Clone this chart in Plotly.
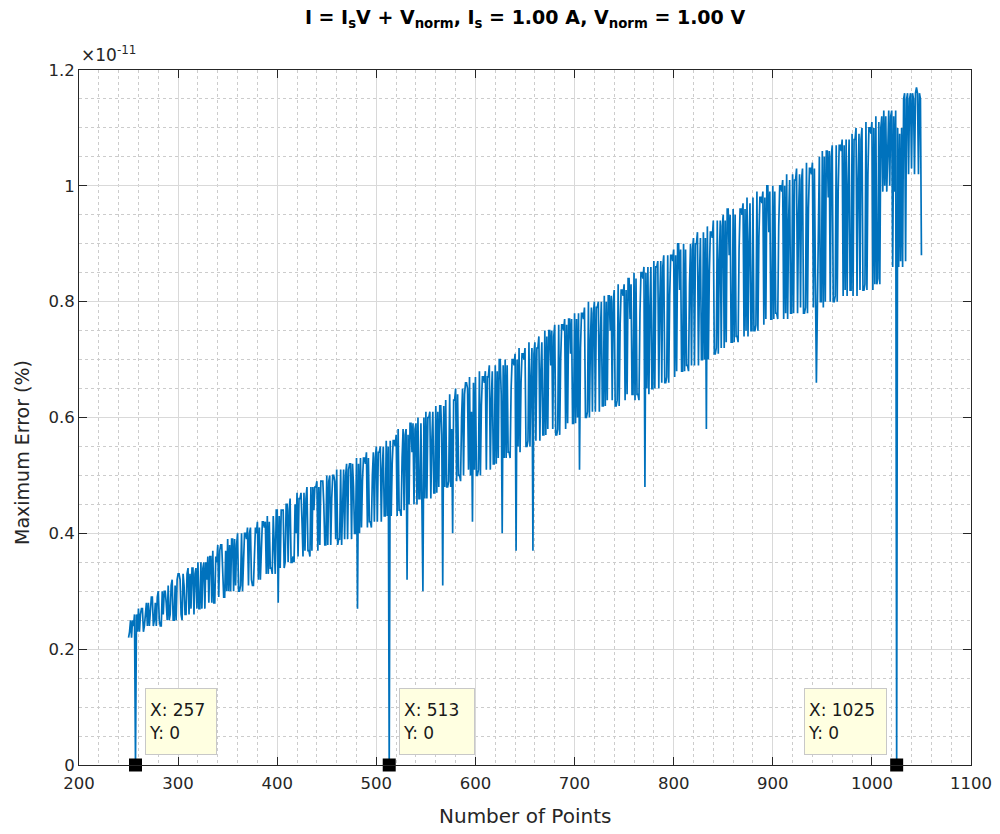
import plotly.graph_objects as go

# Number of points (x axis)
n_points = list(range(250, 1051))

# Maximum error (%), in units of 1e-13 (one value per N)
max_err_e13 = [
    22, 23, 25, 22, 25, 24, 26, 0, 26, 23,        # 250
    27, 23, 26, 27, 27, 23, 24, 27, 28, 24,       # 260
    28, 24, 28, 29, 29, 24, 25, 28, 24, 29,       # 270
    30, 25, 24, 24, 30, 26, 30, 30, 28, 25,       # 280
    31, 25, 26, 31, 32, 25, 25, 31, 25, 32,       # 290
    33, 33, 32, 26, 25, 33, 31, 26, 26, 33,       # 300
    34, 26, 33, 27, 34, 34, 26, 33, 34, 27,       # 310
    35, 27, 27, 35, 27, 34, 35, 27, 35, 32,       # 320
    36, 28, 36, 36, 28, 37, 28, 28, 36, 35,       # 330
    38, 29, 37, 38, 38, 33, 29, 29, 37, 30,       # 340
    39, 30, 38, 30, 39, 39, 30, 39, 31, 38,       # 350
    40, 30, 30, 31, 40, 30, 37, 40, 40, 39,       # 360
    41, 31, 40, 41, 32, 31, 31, 36, 41, 40,       # 370
    42, 32, 41, 32, 38, 42, 42, 41, 42, 33,       # 380
    43, 33, 42, 34, 34, 33, 43, 39, 33, 44,       # 390
    44, 28, 43, 34, 44, 44, 44, 34, 35, 45,       # 400
    45, 35, 44, 46, 35, 35, 36, 35, 45, 40,       # 410
    47, 36, 46, 46, 47, 42, 36, 47, 37, 46,       # 420
    48, 37, 37, 36, 48, 37, 48, 44, 48, 48,       # 430
    49, 37, 48, 38, 49, 49, 49, 45, 38, 38,       # 440
    50, 38, 49, 50, 38, 46, 50, 50, 49, 39,       # 450
    51, 38, 39, 39, 51, 38, 47, 51, 39, 50,       # 460
    52, 39, 51, 52, 52, 39, 52, 48, 40, 40,       # 470
    53, 27, 52, 40, 53, 41, 49, 53, 53, 52,       # 480
    54, 41, 53, 42, 42, 41, 50, 54, 42, 53,       # 490
    55, 42, 54, 54, 55, 42, 51, 55, 43, 43,       # 500
    56, 43, 55, 0, 56, 43, 52, 56, 56, 55,        # 510
    57, 43, 58, 44, 44, 43, 53, 58, 44, 57,       # 520
    58, 32, 57, 45, 59, 59, 54, 59, 45, 58,       # 530
    59, 45, 60, 46, 46, 59, 45, 30, 60, 46,       # 540
    61, 46, 60, 60, 61, 46, 56, 61, 47, 47,       # 550
    62, 47, 61, 48, 62, 62, 57, 31, 62, 48,       # 560
    63, 48, 48, 49, 64, 48, 58, 40, 63, 63,       # 570
    65, 49, 64, 50, 50, 49, 60, 65, 50, 64,       # 580
    66, 66, 65, 51, 67, 50, 61, 42, 66, 51,       # 590
    67, 50, 50, 51, 68, 50, 62, 67, 67, 66,       # 600
    68, 51, 67, 67, 69, 51, 63, 68, 52, 52,       # 610
    69, 52, 68, 53, 70, 70, 64, 40, 69, 53,       # 620
    70, 53, 69, 54, 54, 53, 65, 70, 70, 69,       # 630
    71, 37, 70, 55, 72, 54, 66, 71, 71, 70,       # 640
    72, 55, 55, 56, 73, 55, 67, 72, 37, 71,       # 650
    73, 56, 72, 72, 74, 56, 68, 73, 57, 57,       # 660
    75, 57, 74, 58, 75, 75, 69, 75, 58, 74,       # 670
    76, 57, 57, 58, 76, 57, 70, 76, 76, 75,       # 680
    77, 58, 76, 59, 77, 77, 71, 77, 59, 59,       # 690
    78, 59, 77, 60, 78, 51, 72, 78, 78, 77,       # 700
    79, 60, 60, 61, 80, 60, 73, 79, 61, 78,       # 710
    80, 61, 79, 79, 80, 61, 74, 80, 62, 62,       # 720
    81, 62, 80, 63, 81, 81, 75, 81, 63, 80,       # 730
    82, 62, 62, 63, 83, 62, 76, 82, 82, 81,       # 740
    83, 63, 82, 64, 84, 84, 77, 83, 64, 64,       # 750
    85, 63, 84, 64, 64, 63, 78, 85, 85, 84,       # 760
    86, 48, 85, 65, 86, 64, 79, 86, 65, 65,       # 770
    87, 65, 86, 86, 87, 65, 80, 87, 66, 86,       # 780
    88, 66, 66, 67, 88, 66, 81, 88, 88, 87,       # 790
    89, 67, 88, 68, 90, 90, 82, 89, 68, 68,       # 800
    90, 68, 89, 69, 69, 68, 83, 90, 69, 89,       # 810
    91, 69, 90, 90, 92, 69, 84, 91, 70, 70,       # 820
    92, 70, 91, 58, 93, 70, 85, 92, 92, 91,       # 830
    94, 71, 71, 72, 94, 71, 87, 94, 72, 93,       # 840
    95, 72, 94, 73, 96, 96, 88, 95, 73, 73,       # 850
    96, 73, 95, 74, 74, 73, 89, 96, 96, 95,       # 860
    97, 74, 96, 75, 98, 74, 90, 97, 75, 75,       # 870
    98, 75, 75, 76, 99, 75, 91, 98, 98, 97,       # 880
    99, 76, 98, 77, 100, 100, 92, 99, 77, 77,     # 890
    100, 77, 99, 78, 78, 77, 93, 100, 100, 99,    # 900
    101, 77, 100, 78, 102, 77, 94, 101, 78, 78,   # 910
    102, 78, 101, 101, 103, 78, 95, 102, 79, 101, # 920
    103, 78, 78, 79, 104, 78, 96, 103, 103, 102,  # 930
    104, 79, 103, 80, 66, 79, 97, 105, 80, 80,    # 940
    106, 79, 105, 80, 106, 106, 98, 106, 80, 105, # 950
    107, 80, 80, 81, 107, 80, 99, 107, 107, 106,  # 960
    108, 81, 107, 82, 108, 81, 100, 108, 82, 82,  # 970
    109, 81, 108, 108, 110, 81, 101, 109, 82, 108,# 980
    110, 82, 82, 83, 111, 82, 102, 110, 110, 109, # 990
    111, 82, 110, 83, 112, 83, 84, 111, 83, 110,  # 1000
    112, 99, 113, 100, 112, 99, 106, 113, 100, 112,  # 1010
    113, 86, 112, 99, 113, 0, 110, 86, 109, 87,   # 1020
    110, 86, 115, 116, 87, 115, 116, 102, 115, 116,  # 1030
    103, 116, 115, 102, 116, 117, 116, 102, 116, 115,  # 1040
    88,                                           # 1050
]

# Data tips shown on the chart
tip_x = [257, 513, 1025]

# Axis ticks
x_ticks = [200, 300, 400, 500, 600, 700, 800, 900, 1000, 1100]
y_ticks = [0, 0.2, 0.4, 0.6, 0.8, 1.0, 1.2]
y_tick_text = ["0", "0.2", "0.4", "0.6", "0.8", "1", "1.2"]

# convert 1e-13 units to the plotted 1e-11 units
y_plot = [v / 100.0 for v in max_err_e13]
tip_y = [y_plot[n_points.index(t)] for t in tip_x]

FONT = "DejaVu Sans"
TXT = "#262626"
LINE_BLUE = "#0072BD"

fig = go.Figure()
fig.add_trace(go.Scatter(
    x=n_points, y=y_plot, mode="lines",
    line=dict(color=LINE_BLUE, width=1.7),
    showlegend=False, hoverinfo="skip",
))
fig.add_trace(go.Scatter(
    x=tip_x, y=tip_y, mode="markers",
    marker=dict(symbol="square", size=13, color="black"),
    cliponaxis=False, showlegend=False,
))

box_widths = [64, 68, 75]
for tx, ty, w in zip(tip_x, tip_y, box_widths):
    right_side = tx < 1000
    fig.add_annotation(
        x=tx, y=ty, xref="x", yref="y",
        text=f"X: {tx}<br>Y: {ty:g}",
        showarrow=False,
        xanchor="left" if right_side else "right",
        yanchor="bottom",
        xshift=10 if right_side else -10,
        yshift=10,
        align="left", valign="middle",
        width=w, height=59,
        bgcolor="#ffffe1", bordercolor="#c8c8c8", borderwidth=1, borderpad=3,
        font=dict(family=FONT, size=17, color="#1a1a1a"),
    )

# exponent label
fig.add_annotation(
    x=0, y=1, xref="paper", yref="paper", xanchor="left", yanchor="bottom",
    text="×10<sup>-11</sup>", showarrow=False, yshift=3,
    font=dict(family=FONT, size=17, color=TXT),
)

# y-axis title (placed as in the reference, a little below the axis middle)
fig.add_annotation(
    x=0, y=0.449, xref="paper", yref="paper", xanchor="center", yanchor="middle",
    xshift=-57, textangle=-90, showarrow=False,
    text="Maximum Error (%)",
    font=dict(family=FONT, size=19, color=TXT),
)

# x-axis title
fig.add_annotation(
    x=0.5, y=0, xref="paper", yref="paper", xanchor="center", yanchor="middle",
    yshift=-51, showarrow=False,
    text="Number of Points",
    font=dict(family=FONT, size=20, color=TXT),
)

axis_common = dict(
    showline=True, linecolor=TXT, linewidth=1, mirror="ticks",
    ticks="inside", ticklen=8, tickcolor=TXT, tickwidth=1,
    showgrid=True, gridcolor="#d9d9d9", gridwidth=1,
    zeroline=False, automargin=False,
    tickfont=dict(family=FONT, size=16.5, color=TXT),
)

fig.update_layout(
    width=1000, height=834,
    margin=dict(l=79, r=29, t=70, b=69),
    paper_bgcolor="white", plot_bgcolor="white",
    title=dict(
        text="<b>I = I<sub>s</sub>V + V<sub>norm</sub>, I<sub>s</sub> = 1.00 A, V<sub>norm</sub> = 1.00 V</b>",
        x=0.5, xref="paper", xanchor="center",
        y=1 - 17 / 834, yref="container", yanchor="middle",
        font=dict(family=FONT, size=19, color="#000000"),
    ),
    xaxis=dict(
        range=[200, 1100], tickvals=x_ticks,
        minor=dict(dtick=20, tick0=200, showgrid=True, gridcolor="#cccccc",
                   griddash="dot", gridwidth=1, ticks=""),
        ticklabelstandoff=3,
        **axis_common,
    ),
    yaxis=dict(
        range=[0, 1.2], tickvals=y_ticks, ticktext=y_tick_text,
        minor=dict(dtick=0.05, tick0=0, showgrid=True, gridcolor="#cccccc",
                   griddash="dot", gridwidth=1, ticks=""),
        **axis_common,
    ),
)

fig.write_html("out.html")
